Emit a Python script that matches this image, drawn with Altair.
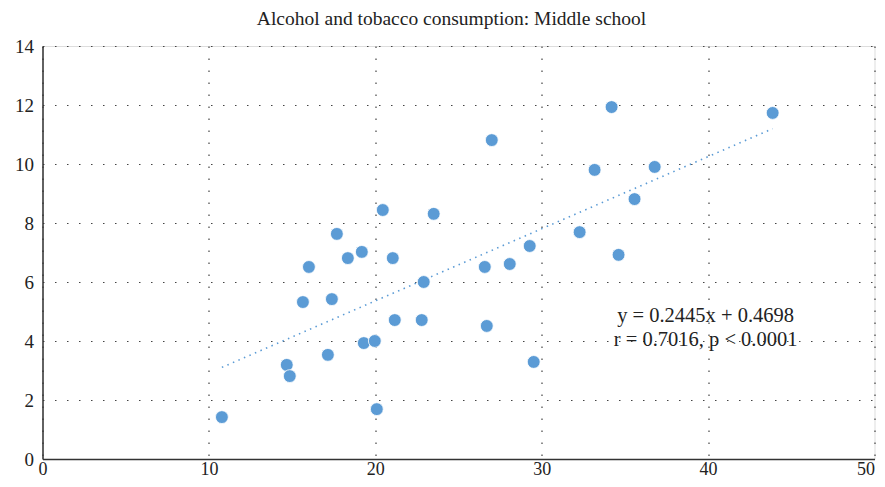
import altair as alt
import pandas as pd

# Data
tobacco = [10.78, 14.68, 14.86, 15.65, 16.01, 17.15, 17.39, 17.69, 18.35, 19.19,
           19.31, 19.97, 20.09, 20.45, 21.05, 21.17, 22.79, 22.91, 23.51, 26.58,
           26.70, 27.00, 28.08, 29.28, 29.52, 32.28, 33.18, 34.20, 34.62, 35.58,
           36.79, 43.88]
alcohol = [1.42, 3.19, 2.81, 5.32, 6.51, 3.53, 5.42, 7.63, 6.81, 7.02,
           3.93, 4.00, 1.69, 8.44, 6.81, 4.71, 4.71, 6.00, 8.31, 6.51,
           4.51, 10.81, 6.61, 7.22, 3.29, 7.69, 9.80, 11.93, 6.92, 8.81,
           9.90, 11.73]

slope = 0.2445
intercept = 0.4698
eq_lines = ["y = 0.2445x + 0.4698", "r = 0.7016, p < 0.0001"]
title_text = "Alcohol and tobacco consumption: Middle school"

FONT = "Liberation Serif"

pts = pd.DataFrame({"x": tobacco, "y": alcohol})
fit = pd.DataFrame({"x": [min(tobacco), max(tobacco)]})
ann = pd.DataFrame({"label": eq_lines, "x": [39.85, 39.85], "y": [4.85, 4.02]})

xscale = alt.Scale(domain=[0, 50], nice=False, zero=False)
yscale = alt.Scale(domain=[0, 14], nice=False, zero=False)

xaxis = alt.Axis(values=[0, 10, 20, 30, 40, 50], title=None, ticks=False,
                 labelFont=FONT, labelFontSize=18, labelColor="#222",
                 labelPadding=1, labelBaseline="top",
                 labelAlign={"expr": "datum.value == 50 ? 'right' : 'center'"},
                 domainColor="#333", domainWidth=1.5,
                 grid=True, gridColor="#444", gridDash=[1.5, 10.5], gridWidth=1.2)
yaxis = alt.Axis(values=[0, 2, 4, 6, 8, 10, 12, 14], title=None, ticks=False,
                 labelFont=FONT, labelFontSize=19, labelColor="#222",
                 labelPadding=9, domainColor="#333", domainWidth=1.5,
                 grid=True, gridColor="#444", gridDash=[1.5, 10.5], gridWidth=1.2)

base_points = alt.Chart(pts).mark_circle(
    size=165, color="#5B9BD5", opacity=1, stroke="white", strokeWidth=0.8
).encode(
    x=alt.X("x:Q", scale=xscale, axis=xaxis),
    y=alt.Y("y:Q", scale=yscale, axis=yaxis),
)

trend = alt.Chart(fit).transform_calculate(
    y=f"{slope} * datum.x + {intercept}"
).mark_line(color="#5B9BD5", strokeWidth=1.6, strokeDash=[1.5, 4.5]).encode(
    x=alt.X("x:Q", scale=xscale),
    y=alt.Y("y:Q", scale=yscale),
)

text = alt.Chart(ann).mark_text(
    font=FONT, fontSize=20.5, color="#222", align="center", baseline="middle"
).encode(
    x=alt.X("x:Q", scale=xscale),
    y=alt.Y("y:Q", scale=yscale),
    text="label:N",
)

chart = alt.layer(trend, base_points, text).properties(
    width=832, height=413,
    autosize=alt.AutoSizeParams(type="none"),
    padding={"left": 34.5, "top": 38, "right": 2, "bottom": 20},
    title=alt.Title(title_text, font=FONT, fontSize=19.5, fontWeight="normal",
                    color="#222", offset=7.5, anchor="middle", dx=-7),
).configure_view(stroke=None).configure(background="white")

chart.save("out.html", embed_options={"renderer": "svg", "actions": False})
